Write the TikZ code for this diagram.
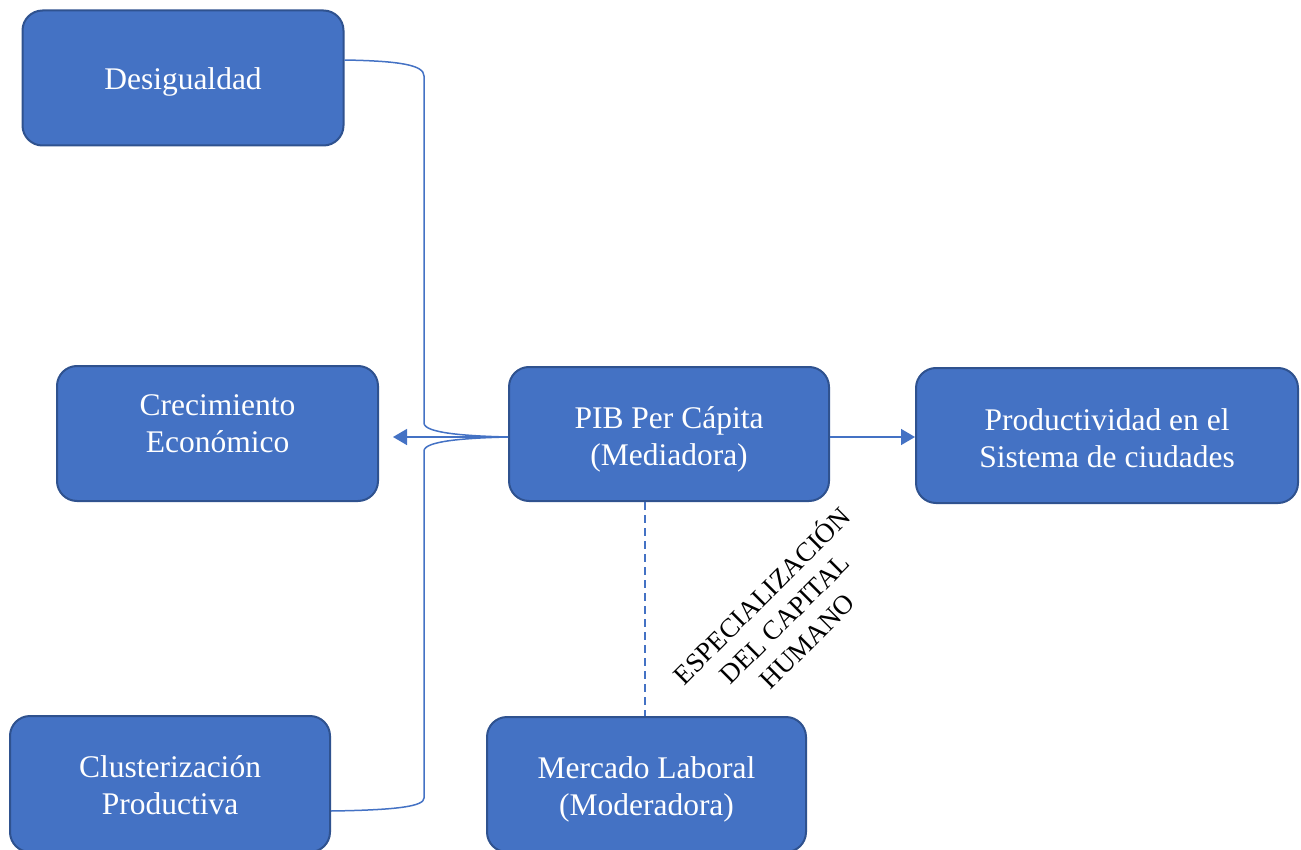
\documentclass[tikz,border=0pt]{standalone}
\usepackage{fontspec}
\setmainfont{Liberation Serif}
\usetikzlibrary{arrows.meta,calc}
\definecolor{boxfill}{HTML}{4472C4}
\definecolor{boxline}{HTML}{2F528F}
\definecolor{conn}{HTML}{4472C4}
\tikzset{
  box/.style={draw=boxline, line width=2pt, fill=boxfill, rounded corners=20pt, inner sep=0pt},
  btext/.style={text=white, align=center, inner sep=0pt, font=\fontsize{31.5}{37}\selectfont},
  conline/.style={draw=conn, line width=1.5pt},
  arr/.style={conline, -{Triangle[length=14pt,width=16pt]}},
}
\begin{document}
\begin{tikzpicture}[x=1pt,y=-1pt]
\useasboundingbox (0,0) rectangle (1301,850);
\node[box, minimum width=321pt, minimum height=135pt,
  label={[btext, yshift=-4pt]center:Desigualdad}] (des) at (183,78) {};
\node[box, minimum width=321pt, minimum height=135pt,
  label={[btext, yshift=10pt]center:Crecimiento\\Económico}] (crec) at (217.5,433.5) {};
\node[box, minimum width=320pt, minimum height=136pt,
  label={[btext, yshift=-1pt]center:Clusterización\\Productiva}] (clus) at (170,784) {};
\node[box, minimum width=320pt, minimum height=134pt,
  label={[btext, yshift=-5pt]center:PIB Per Cápita\\(Mediadora)}] (pib) at (669,434) {};
\node[box, minimum width=382pt, minimum height=135pt,
  label={[btext, yshift=-2.5pt]center:Productividad en el\\Sistema de ciudades}] (prod) at (1107,435.5) {};
\node[box, minimum width=319pt, minimum height=135pt,
  label={[btext, yshift=-4.5pt]center:Mercado Laboral\\(Moderadora)}] (merc) at (646.5,784.5) {};

\coordinate (join) at (pib.west |- 0,437);
\coordinate (desout) at (des.east |- 0,60);
\coordinate (clusout) at (clus.east |- 0,811);

\draw[arr, shorten >=14pt] (join) -- (crec.east |- 0,437);
\draw[arr] (pib.east |- 0,437) -- (prod.west |- 0,437);
\draw[conline] (desout) .. controls (400,61) and (424,65) .. (424,76)
  -- (424,423) .. controls (424,433) and (465,436) .. (join);
\draw[conline] (clusout) .. controls (400,810) and (424,806) .. (424,798)
  -- (424,451) .. controls (424,441) and (465,438) .. (join);
\draw[conn, line width=1.5pt, dash pattern=on 8pt off 5pt] (pib.south -| 645,0) -- (merc.north -| 645,0);

\node[rotate=45, align=center, font=\fontsize{27}{32}\selectfont, inner sep=0pt] (lab) at (783,617)
  {ESPECIALIZACIÓN\\DEL CAPITAL\\HUMANO};
\end{tikzpicture}
\end{document}
